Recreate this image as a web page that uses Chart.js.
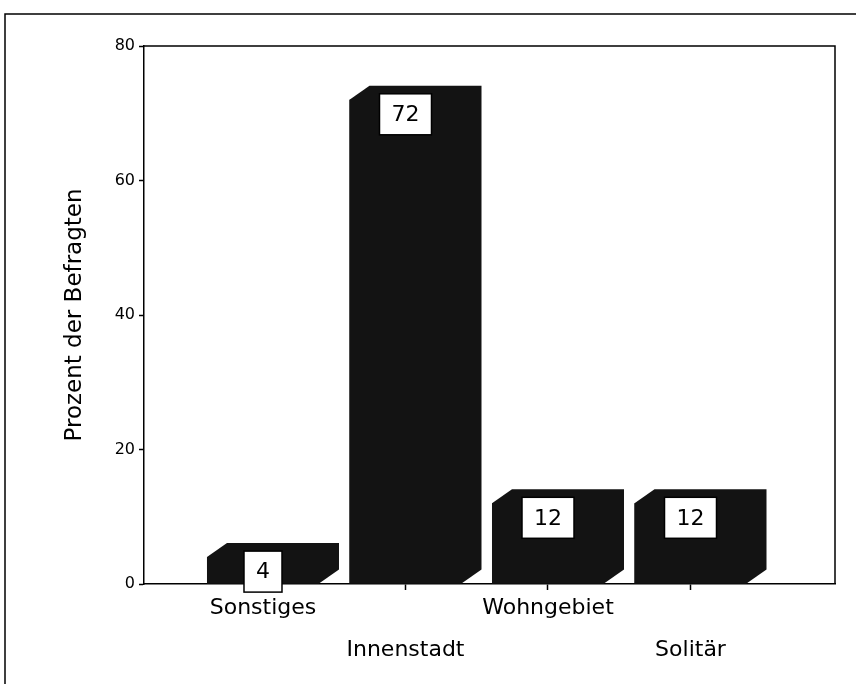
<!DOCTYPE html>
<html>
<head>
<meta charset="utf-8">
<script src="https://cdn.jsdelivr.net/npm/chart.js@4.4.0/dist/chart.umd.min.js"></script>
<style>
  html, body { margin: 0; padding: 0; background: #fff; }
</style>
</head>
<body>
<canvas id="barChart" width="856" height="684"></canvas>
<script>
// data
var categories = ["Sonstiges", "Innenstadt", "Wohngebiet", "Solitär"];
var percentValues = [4, 72, 12, 12];
var yTicks = [0, 20, 40, 60, 80];
var yTitle = "Prozent der Befragten";

var barColor = "#131313";
var depthX = 20, depthY = 14;
var fontFamily = "'DejaVu Sans', sans-serif";

// frame lines + fake 3d depth + white value boxes
var box3d = {
  id: 'box3d',
  beforeDatasetsDraw: function(chart) {
    var ctx = chart.ctx, a = chart.chartArea;
    ctx.save();
    ctx.strokeStyle = '#000';
    ctx.lineWidth = 1.5;
    ctx.beginPath();
    ctx.moveTo(a.left, a.top);
    ctx.lineTo(a.right, a.top);
    ctx.lineTo(a.right, a.bottom);
    ctx.stroke();
    // outer frame of the scanned page
    ctx.beginPath();
    ctx.moveTo(5, 684);
    ctx.lineTo(5, 14);
    ctx.lineTo(856, 14);
    ctx.stroke();
    ctx.restore();
  },
  afterDatasetsDraw: function(chart) {
    var ctx = chart.ctx;
    var meta = chart.getDatasetMeta(0);
    ctx.save();
    meta.data.forEach(function(el, i) {
      var p = el.getProps(['x', 'y', 'base', 'width'], true);
      var l = p.x - p.width / 2, r = p.x + p.width / 2;
      // whole box silhouette (front + top + side) so there are no seams
      ctx.fillStyle = barColor;
      ctx.beginPath();
      ctx.moveTo(l, p.base);
      ctx.lineTo(l, p.y);
      ctx.lineTo(l + depthX, p.y - depthY);
      ctx.lineTo(r + depthX, p.y - depthY);
      ctx.lineTo(r + depthX, p.base - depthY);
      ctx.lineTo(r, p.base);
      ctx.closePath();
      ctx.fill();

      var txt = String(percentValues[i]);
      ctx.font = "22px " + fontFamily;
      var w = ctx.measureText(txt).width + 24;
      var h = 41;
      var top = p.y - 6;
      ctx.fillStyle = '#fff';
      ctx.fillRect(p.x - w / 2, top, w, h);
      ctx.strokeStyle = '#000';
      ctx.lineWidth = 1.5;
      ctx.strokeRect(p.x - w / 2, top, w, h);
      ctx.fillStyle = '#000';
      ctx.textAlign = 'center';
      ctx.textBaseline = 'middle';
      ctx.fillText(txt, p.x, top + h / 2 + 1);
    });
    ctx.restore();
  }
};

var ctxB = document.getElementById("barChart").getContext('2d');
var myBarChart = new Chart(ctxB, {
  type: 'bar',
  data: {
    datasets: [{
      data: percentValues.map(function(v, i) { return {x: i, y: v}; }),
      backgroundColor: barColor,
      borderWidth: 0,
      barPercentage: 0.786,
      categoryPercentage: 1.0
    }]
  },
  options: {
    responsive: false,
    animation: false,
    layout: { padding: { left: 0, top: 46, right: 21, bottom: 0 } },
    plugins: {
      legend: { display: false },
      tooltip: { enabled: false }
    },
    scales: {
      x: {
        type: 'linear',
        min: -0.835,
        max: 4.014,
        offset: false,
        grid: { display: true, offset: false, drawOnChartArea: false, tickLength: 6, tickColor: '#000', tickWidth: 1.5 },
        border: { display: true, color: '#000', width: 1.5 },
        afterBuildTicks: function(scale) {
          scale.ticks = categories.map(function(c, i) { return {value: i}; });
        },
        afterFit: function(scale) { scale.height = 100; },
        ticks: {
          autoSkip: false,
          maxRotation: 0,
          padding: -3,
          color: '#000',
          font: { family: fontFamily, size: 22, lineHeight: '42px' },
          callback: function(value) {
            var i = Math.round(value);
            return i % 2 ? ['', categories[i]] : categories[i];
          }
        }
      },
      y: {
        min: 0,
        max: 80,
        afterBuildTicks: function(scale) {
          scale.ticks = yTicks.map(function(v) { return {value: v}; });
        },
        afterFit: function(scale) { scale.width = 144; },
        grid: { display: true, drawOnChartArea: false, tickLength: 5, tickColor: '#000', tickWidth: 1.5 },
        border: { display: true, color: '#000', width: 1.5 },
        ticks: {
          padding: 4,
          color: '#000',
          font: { family: fontFamily, size: 16 }
        },
        title: {
          display: true,
          text: yTitle,
          color: '#000',
          padding: { top: 61, bottom: 0 },
          font: { family: fontFamily, size: 23 }
        }
      }
    }
  },
  plugins: [box3d]
});
</script>
</body>
</html>
